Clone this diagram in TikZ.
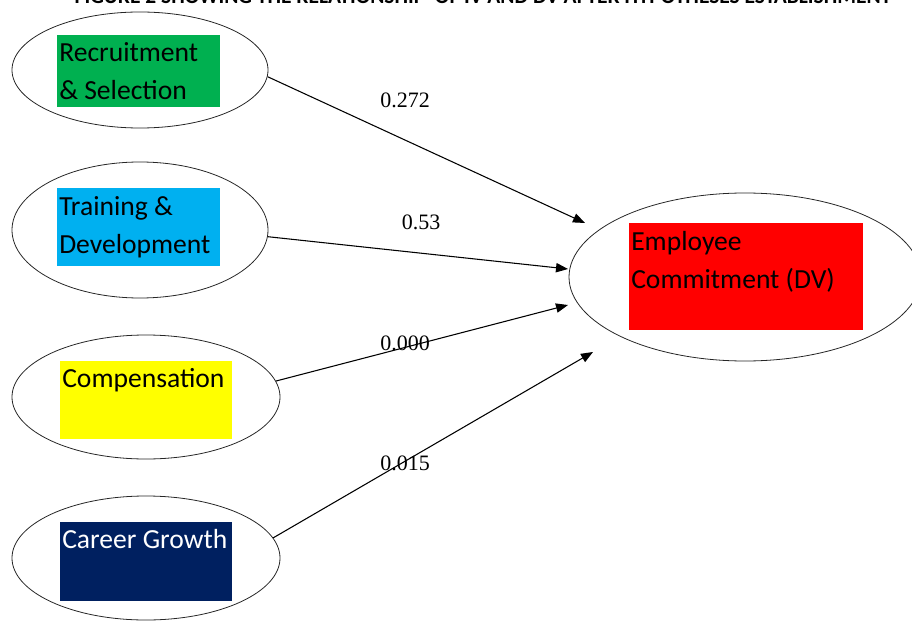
\documentclass[tikz,border=0pt]{standalone}
\usepackage{fontspec}
\setmainfont{Carlito}
\newfontfamily\weightfont{Liberation Serif}
\usepackage{tikz}
\usetikzlibrary{arrows.meta,shapes}
\definecolor{recgreen}{RGB}{0,176,80}
\definecolor{trnblue}{RGB}{0,176,240}
\definecolor{cmpyellow}{RGB}{255,255,0}
\definecolor{carnavy}{RGB}{0,32,96}
\definecolor{empred}{RGB}{255,0,0}
\tikzstyle{factor}=[
	ellipse,
	draw=black!85,
	line width=0.6pt,
	inner sep=0pt]
\tikzstyle{fill box}=[
	rectangle,
	anchor=north west,
	inner sep=0pt]
\tikzstyle{label}=[
	anchor=north west,
	inner sep=0pt,
	align=left,
	font=\fontsize{20.7}{28.5}\selectfont]
\tikzstyle{weight}=[
	inner sep=0pt,
	font=\weightfont\fontsize{16.5}{18}\selectfont]
\tikzstyle{link}=[
	-{Triangle[length=9pt,width=7pt]},
	line width=0.8pt]
\begin{document}
\begin{tikzpicture}[x=0.75pt,y=-0.75pt]
	\clip (0,0) rectangle (912,620);
	\useasboundingbox (0,0) rectangle (912,620);
	\node[anchor=base,inner sep=0pt,font=\bfseries\fontsize{16.1}{18}\selectfont] (title) at (483,4) {FIGURE 2 SHOWING THE RELATIONSHIP\ \ OF IV AND DV AFTER HYPOTHESES ESTABLISHMENT};
	\node[factor,minimum width=192pt,minimum height=87pt]	(rec)	at (140,70)	{};
	\node[factor,minimum width=192pt,minimum height=102pt]	(trn)	at (140,230)	{};
	\node[factor,minimum width=201pt,minimum height=93pt]	(cmp)	at (146,397)	{};
	\node[factor,minimum width=201pt,minimum height=93pt]	(car)	at (146,558)	{};
	\node[factor,minimum width=264pt,minimum height=126pt]	(emp)	at (745,277)	{};
	\node[fill box,fill=recgreen,minimum width=122.25pt,minimum height=54pt]	(rec box)	at (57,35)	{};
	\node[fill box,fill=trnblue,minimum width=122.25pt,minimum height=58.5pt]	(trn box)	at (57,188)	{};
	\node[fill box,fill=cmpyellow,minimum width=129pt,minimum height=58.5pt]	(cmp box)	at (60,361)	{};
	\node[fill box,fill=carnavy,minimum width=129pt,minimum height=59.25pt]	(car box)	at (60,522)	{};
	\node[fill box,fill=empred,minimum width=175.5pt,minimum height=80.25pt]	(emp box)	at (629,223)	{};
	\node[label]	(rec text)	at (59,42)	{Recruitment\\\& Selection};
	\node[label]	(trn text)	at (59,196)	{Training \&\\Development};
	\node[label]	(cmp text)	at (62,368)	{Compensation};
	\node[label,text=white]	(car text)	at (62,529)	{Career Growth};
	\node[label]	(emp text)	at (631,231)	{Employee\\Commitment (DV)};
	\coordinate (rec tip) at (585,223);
	\coordinate (trn tip) at (568,269);
	\coordinate (cmp tip) at (568,305);
	\coordinate (car tip) at (593,352);
	\draw[link] (rec.-3) -- (rec tip);
	\draw[link] (trn.-3) -- (trn tip);
	\draw[link] (cmp.7) -- (cmp tip);
	\draw[link] (car.9) -- (car tip);
	\node[weight]	(rec weight)	at (405,100)	{0.272};
	\node[weight]	(trn weight)	at (421,222)	{0.53};
	\node[weight]	(cmp weight)	at (405,343)	{0.000};
	\node[weight]	(car weight)	at (405,463)	{0.015};
\end{tikzpicture}
\end{document}
